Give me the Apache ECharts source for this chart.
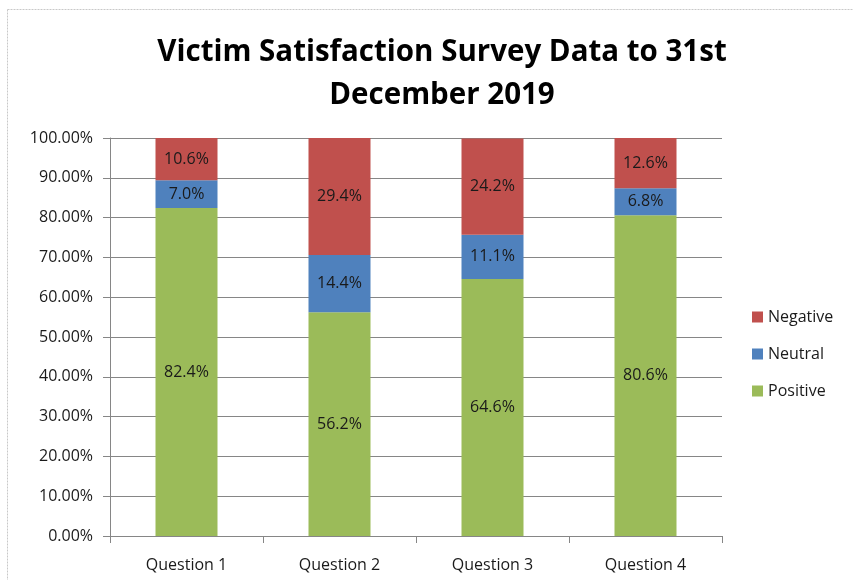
<!DOCTYPE html>
<html>
<head>
<meta charset="utf-8">
<script src="https://cdn.jsdelivr.net/npm/echarts@6/dist/echarts.min.js"></script>
<style>html,body{margin:0;padding:0;background:#fff}#c{width:853px;height:580px}</style>
</head>
<body>
<div id="c"></div>
<script>
const categories = ['Question 1', 'Question 2', 'Question 3', 'Question 4'];
const positive = [82.4, 56.2, 64.6, 80.6];
const neutral = [7.0, 14.4, 11.1, 6.8];
const negative = [10.6, 29.4, 24.2, 12.6];
const titleLines = ['Victim Satisfaction Survey Data to 31st', 'December 2019'];

const font = 'Open Sans, Liberation Sans, sans-serif';
const lbl = {
  show: true, position: 'inside', color: '#1a1a1a', fontSize: 16, fontFamily: font,
  formatter: p => p.value.toFixed(1) + '%'
};
const chart = echarts.init(document.getElementById('c'), null, {renderer: 'canvas'});
chart.setOption({
  animation: false,
  backgroundColor: '#fff',
  graphic: [
    {type: 'line', shape: {x1: 7.5, y1: 9.5, x2: 853, y2: 9.5}, style: {stroke: '#c8c8c8', lineWidth: 1, lineDash: [2, 1]}},
    {type: 'line', shape: {x1: 7.5, y1: 9.5, x2: 7.5, y2: 580}, style: {stroke: '#c8c8c8', lineWidth: 1, lineDash: [2, 1]}}
  ],
  title: {
    text: titleLines.join('\n'),
    left: 437, top: 26, textAlign: 'center',
    textStyle: {fontFamily: font, fontWeight: 'bold', fontSize: 29.5, color: '#000', lineHeight: 43}
  },
  legend: {
    data: ['Negative', 'Neutral', 'Positive'],
    orient: 'vertical', left: 747, top: 304, itemGap: 21,
    itemWidth: 11, itemHeight: 11, icon: 'rect',
    textStyle: {fontFamily: font, fontSize: 16, lineHeight: 16, color: '#1a1a1a'}
  },
  grid: {left: 110, right: 131, top: 138, bottom: 44, containLabel: false},
  xAxis: {
    type: 'category', data: categories,
    axisLine: {lineStyle: {color: '#868686'}},
    axisTick: {show: true, length: 7, lineStyle: {color: '#868686'}},
    axisLabel: {fontFamily: font, fontSize: 16, color: '#1a1a1a', margin: 21}
  },
  yAxis: {
    type: 'value', min: 0, max: 100, interval: 10,
    axisLine: {show: true, lineStyle: {color: '#868686'}},
    axisTick: {show: true, length: 7, lineStyle: {color: '#868686'}},
    splitLine: {lineStyle: {color: '#868686'}},
    axisLabel: {fontFamily: font, fontSize: 16, color: '#1a1a1a', margin: 17, formatter: v => v.toFixed(2) + '%'}
  },
  series: [
    {name: 'Positive', type: 'bar', stack: 's', data: positive, barWidth: 62, itemStyle: {color: '#9BBB59'}, label: lbl},
    {name: 'Neutral', type: 'bar', stack: 's', data: neutral, barWidth: 62, itemStyle: {color: '#4F81BD'}, label: lbl},
    {name: 'Negative', type: 'bar', stack: 's', data: negative, barWidth: 62, itemStyle: {color: '#C0504D'}, label: lbl}
  ]
});
</script>
</body>
</html>
